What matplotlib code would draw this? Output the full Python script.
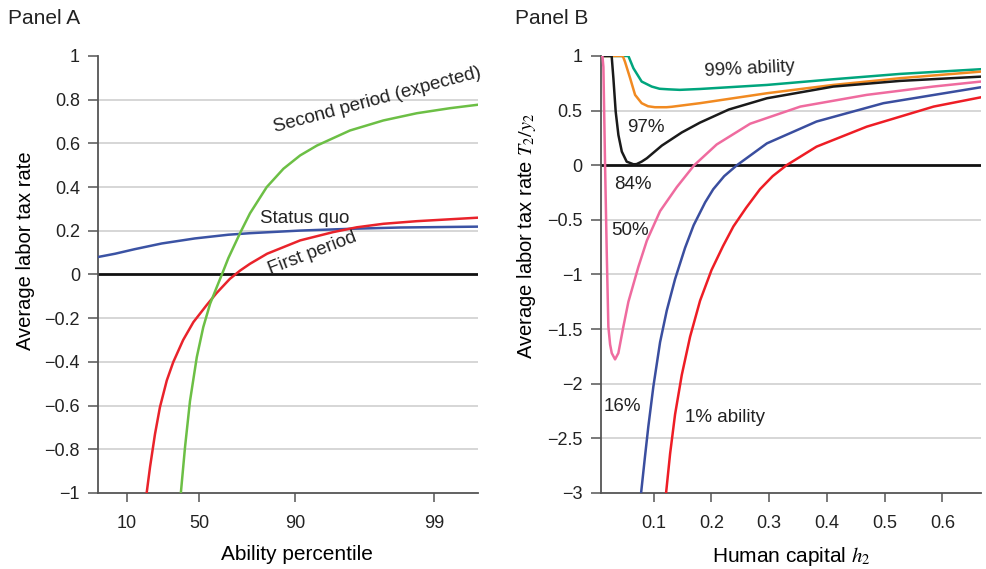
import matplotlib
matplotlib.use("Agg")
import matplotlib.pyplot as plt

plt.rcParams['font.family'] = ['Liberation Sans', 'DejaVu Sans']
plt.rcParams['mathtext.fontset'] = 'stix'

# Panel A: ability axis (position along axis, 0..1), ticks labelled by percentile
ability_ticks = [0.076, 0.266, 0.518, 0.884]
ability_labels = ['10', '50', '90', '99']

status_quo_x = [0.0, 0.045, 0.097, 0.168, 0.255, 0.343, 0.4, 0.532, 0.663, 0.795, 1.0]
status_quo_y = [0.08, 0.095, 0.116, 0.142, 0.165, 0.182, 0.189, 0.201, 0.209, 0.215, 0.219]

first_x = [0.128, 0.137, 0.15, 0.163, 0.181, 0.198, 0.224, 0.251, 0.286, 0.312, 0.347, 0.374, 0.4,
           0.445, 0.532, 0.619, 0.681, 0.751, 0.839, 1.0]
first_y = [-1.0, -0.88, -0.73, -0.607, -0.485, -0.401, -0.30, -0.218, -0.14, -0.085, -0.02, 0.018, 0.049,
           0.095, 0.156, 0.194, 0.216, 0.232, 0.244, 0.26]

second_x = [0.218, 0.229, 0.242, 0.26, 0.277, 0.295, 0.312, 0.326, 0.343, 0.374, 0.4, 0.444, 0.488, 0.532,
            0.576, 0.663, 0.751, 0.839, 0.926, 1.0]
second_y = [-1.0, -0.79, -0.58, -0.378, -0.241, -0.134, -0.06, 0.0, 0.075, 0.19, 0.28, 0.4, 0.484, 0.545,
            0.59, 0.659, 0.705, 0.738, 0.761, 0.777]

# Panel B: average tax rate by human capital, one curve per ability level
h99 = [0.008, 0.056, 0.0647, 0.079, 0.0965, 0.11, 0.125, 0.145, 0.18, 0.296, 0.411, 0.527, 0.667]
t99 = [1.0, 1.0, 0.888, 0.766, 0.72, 0.70, 0.695, 0.69, 0.698, 0.735, 0.787, 0.836, 0.879]

h97 = [0.008, 0.045, 0.047, 0.05, 0.059, 0.0676, 0.079, 0.09, 0.102, 0.122, 0.131, 0.18, 0.296, 0.411, 0.527, 0.667]
t97 = [1.0, 1.0, 0.99, 0.949, 0.797, 0.644, 0.568, 0.54, 0.531, 0.531, 0.535, 0.568, 0.659, 0.735, 0.797, 0.857]

h84 = [0.008, 0.027, 0.030, 0.034, 0.0387, 0.0446, 0.053, 0.0647, 0.07, 0.079, 0.088, 0.114, 0.1485, 0.18,
       0.23, 0.296, 0.411, 0.527, 0.667]
t84 = [1.0, 1.0, 0.797, 0.49, 0.277, 0.125, 0.033, 0.009, 0.01, 0.033, 0.064, 0.18, 0.30, 0.39,
       0.51, 0.613, 0.72, 0.772, 0.811]

h50 = [0.008, 0.011, 0.0127, 0.0156, 0.0185, 0.0213, 0.0243, 0.0272, 0.0329, 0.0386, 0.0473, 0.056, 0.0733,
       0.088, 0.1109, 0.1399, 0.170, 0.209, 0.267, 0.354, 0.469, 0.584, 0.667]
t50 = [1.0, 1.0, 0.9, 0.0, -0.8, -1.478, -1.64, -1.72, -1.777, -1.72, -1.478, -1.25, -0.93,
       -0.69, -0.42, -0.20, 0.0, 0.19, 0.38, 0.537, 0.644, 0.72, 0.766]

h16 = [0.078, 0.0849, 0.0906, 0.0993, 0.1109, 0.1225, 0.137, 0.1542, 0.169, 0.189, 0.203, 0.222, 0.244,
       0.296, 0.382, 0.498, 0.667]
t16 = [-3.0, -2.66, -2.39, -2.025, -1.62, -1.33, -1.04, -0.756, -0.55, -0.34, -0.22, -0.10, 0.0,
       0.2, 0.4, 0.568, 0.714]

h01 = [0.1213, 0.1283, 0.1369, 0.1485, 0.1629, 0.1802, 0.2, 0.22, 0.238, 0.26, 0.284, 0.306, 0.33,
       0.382, 0.469, 0.585, 0.667]
t01 = [-3.0, -2.64, -2.28, -1.92, -1.57, -1.24, -0.96, -0.74, -0.56, -0.39, -0.22, -0.10, 0.0,
       0.17, 0.353, 0.537, 0.622]

fig = plt.figure(figsize=(9.87, 5.69), dpi=100)
axA = fig.add_axes([0.0993, 0.1336, 0.385, 0.768])
axB = fig.add_axes([0.6086, 0.1336, 0.3853, 0.768])

spine_col = '#555555'
grid_col = '#cccccc'
text_col = '#222222'

for ax in (axA, axB):
    for s in ('top', 'right'):
        ax.spines[s].set_visible(False)
    for s in ('left', 'bottom'):
        ax.spines[s].set_color(spine_col)
        ax.spines[s].set_linewidth(1.3)
    ax.tick_params(axis='y', direction='out', length=7, width=1.1, color=spine_col, pad=6, labelsize=13, labelcolor=text_col)
    ax.tick_params(axis='x', direction='out', length=6.5, width=1.1, color=spine_col, pad=9, labelsize=13, labelcolor=text_col)

# ---- Panel A
yticksA = [-1, -0.8, -0.6, -0.4, -0.2, 0, 0.2, 0.4, 0.6, 0.8, 1]
for yv in yticksA:
    if yv not in (-1, 0, 1):
        axA.axhline(yv, color=grid_col, lw=1.1, zorder=1)
axA.axhline(0, color='#111111', lw=2.0, zorder=2)
axA.plot(status_quo_x, status_quo_y, color='#3b53a4', lw=1.8, zorder=3)
axA.plot(first_x, first_y, color='#e9232b', lw=1.8, zorder=3)
axA.plot(second_x, second_y, color='#6cbf45', lw=1.8, zorder=3)
axA.set_xlim(0, 1)
axA.set_ylim(-1, 1)
axA.set_yticks(yticksA)
axA.set_yticklabels(['\u22121', '\u22120.8', '\u22120.6', '\u22120.4', '\u22120.2', '0', '0.2', '0.4', '0.6', '0.8', '1'])
axA.set_xticks(ability_ticks)
axA.set_xticklabels(ability_labels)
axA.set_xlabel('Ability percentile', fontsize=15)
axA.xaxis.set_label_coords(0.524, -0.118)
axA.set_ylabel('Average labor tax rate', fontsize=14.5)
axA.yaxis.set_label_coords(-0.165, 0.554)

axA.text(0.735, 0.8, 'Second period (expected)', fontsize=13.5, rotation=15, ha='center', va='center', color=text_col)
axA.text(0.545, 0.257, 'Status quo', fontsize=13.5, ha='center', va='center', color=text_col)
axA.text(0.565, 0.095, 'First period', fontsize=13.5, rotation=21, ha='center', va='center', color=text_col)

# ---- Panel B
yticksB = [-3, -2.5, -2, -1.5, -1, -0.5, 0, 0.5, 1]
for yv in yticksB:
    if yv not in (-3, 0, 1):
        axB.axhline(yv, color=grid_col, lw=1.1, zorder=1)
axB.axhline(0, color='#111111', lw=2.0, zorder=2)
axB.plot(h99, t99, color='#00a57d', lw=1.8, zorder=3)
axB.plot(h97, t97, color='#f18a21', lw=1.8, zorder=3)
axB.plot(h84, t84, color='#1a1a1a', lw=1.8, zorder=3)
axB.plot(h50, t50, color='#ef6b9f', lw=1.8, zorder=3)
axB.plot(h16, t16, color='#3a4e9f', lw=1.8, zorder=3)
axB.plot(h01, t01, color='#ee1d25', lw=1.8, zorder=3)
axB.set_xlim(0.008, 0.667)
axB.set_ylim(-3, 1)
axB.set_yticks(yticksB)
axB.set_yticklabels(['\u22123', '\u22122.5', '\u22122', '\u22121.5', '\u22121', '\u22120.5', '0', '0.5', '1'])
axB.set_xticks([0.1, 0.2, 0.3, 0.4, 0.5, 0.6])
axB.set_xticklabels(['0.1', '0.2', '0.3', '0.4', '0.5', '0.6'])
axB.set_xlabel('Human capital $h_2$', fontsize=15)
axB.xaxis.set_label_coords(0.5, -0.118)
axB.set_ylabel('Average labor tax rate $T_2/y_2$', fontsize=14.5)
axB.yaxis.set_label_coords(-0.165, 0.587)

lab_kw = dict(fontsize=13.5, ha='center', va='center', color=text_col)
axB.text(0.267, 0.88, '99% ability', rotation=3, **lab_kw)
axB.text(0.0867, 0.35, '97%', **lab_kw)
axB.text(0.064, -0.18, '84%', **lab_kw)
axB.text(0.059, -0.593, '50%', **lab_kw)
axB.text(0.045, -2.21, '16%', **lab_kw)
axB.text(0.2236, -2.31, '1% ability', **lab_kw)

fig.text(0.008, 0.968, 'Panel A', fontsize=15, va='center', ha='left', color=text_col)
fig.text(0.522, 0.968, 'Panel B', fontsize=15, va='center', ha='left', color=text_col)

fig.savefig('out.png', dpi=100)
